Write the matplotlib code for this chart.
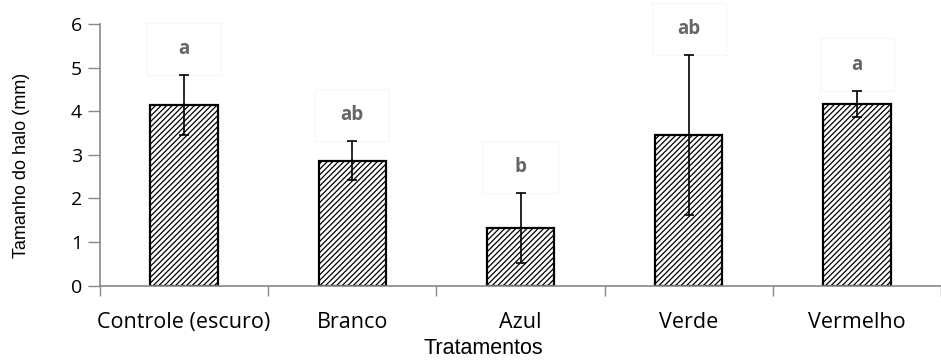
import numpy as np
import matplotlib.pyplot as plt
from matplotlib.patches import Rectangle

# dados
tratamentos = ['Controle (escuro)', 'Branco', 'Azul', 'Verde', 'Vermelho']
medias = [4.14, 2.87, 1.32, 3.46, 4.17]
erros = [0.68, 0.44, 0.80, 1.83, 0.30]
letras = ['a', 'ab', 'b', 'ab', 'a']

plt.rcParams['hatch.linewidth'] = 0.9

fig = plt.figure(figsize=(9.41, 3.61), dpi=100)
ax = fig.add_axes([100 / 941, 1 - 285.7 / 361, 841 / 941, (285.7 - 24) / 361])

x = np.arange(len(tratamentos))
ax.bar(x, medias, width=0.4, color='white', edgecolor='black',
       linewidth=1.6, hatch='//////', zorder=2)
ax.errorbar(x, medias, yerr=erros, fmt='none', ecolor='black',
            elinewidth=1.2, capsize=3.5, capthick=1.2, zorder=3)

for xi, m, e, l in zip(x, medias, erros, letras):
    yl = m + e + 0.6
    # caixa de texto quase invisivel, como no original
    ax.add_patch(Rectangle((xi - 0.22, yl - 0.6), 0.44, 1.2, fc='none',
                           ec='#f6f6f6', lw=0.8, zorder=1, clip_on=False))
    ax.text(xi, yl, l, ha='center', va='center', fontsize=13.5,
            color='#666666', family='Open Sans', fontweight='bold', zorder=4)

ax.set_xlim(-0.5, 4.5 - 9 / 170)
ax.set_ylim(0, 6)
ax.set_yticks(range(0, 7))
ax.set_yticklabels([str(v) for v in range(0, 7)], family='Open Sans', fontsize=14)

# separadores entre categorias como ticks maiores, rotulos nos menores
ax.set_xticks(np.arange(-0.5, 4.6, 1))
ax.set_xticklabels([])
ax.set_xticks(x, minor=True)
ax.set_xticklabels(tratamentos, minor=True, family='Open Sans', fontsize=15.5)
ax.tick_params(axis='x', which='major', length=7, color='#888888', width=1)
ax.tick_params(axis='x', which='minor', length=0, pad=19)
ax.tick_params(axis='y', length=9, color='#888888', width=1, pad=4)

for s in ['top', 'right']:
    ax.spines[s].set_visible(False)
for s in ['left', 'bottom']:
    ax.spines[s].set_color('#888888')
    ax.spines[s].set_linewidth(1.2)

fig.text(22 / 941, 1 - 165 / 361, 'Tamanho do halo (mm)', rotation=90,
         ha='center', va='center', fontsize=13, family='Liberation Sans')
fig.text(483 / 941, 1.5 / 361, 'Tratamentos', ha='center', va='bottom',
         fontsize=15.5, family='Liberation Sans')

fig.savefig('out.png', dpi=100)
